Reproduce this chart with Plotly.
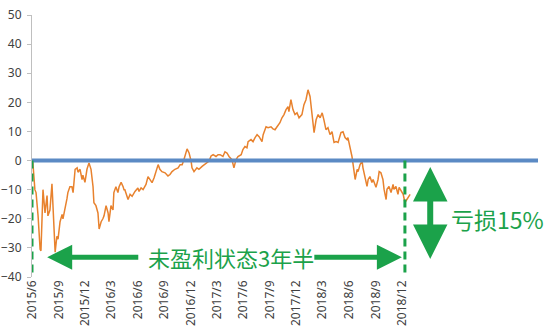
import plotly.graph_objects as go

# Orange series: cumulative return (%)
dates = [
    "2015-06-01", "2015-06-04", "2015-06-11", "2015-06-15", "2015-06-22", "2015-06-29", "2015-07-02",
    "2015-07-09", "2015-07-16", "2015-07-23", "2015-07-26", "2015-08-02", "2015-08-09", "2015-08-13",
    "2015-08-20", "2015-08-26", "2015-08-30", "2015-09-06", "2015-09-13", "2015-09-16", "2015-09-23",
    "2015-09-30", "2015-10-03", "2015-10-10", "2015-10-17", "2015-10-21", "2015-10-28", "2015-11-04",
    "2015-11-07", "2015-11-14", "2015-11-21", "2015-11-24", "2015-12-01", "2015-12-08", "2015-12-15",
    "2015-12-22", "2015-12-29", "2016-01-01", "2016-01-08", "2016-01-15", "2016-01-19", "2016-01-26",
    "2016-02-01", "2016-02-05", "2016-02-12", "2016-02-19", "2016-02-22", "2016-02-29", "2016-03-07",
    "2016-03-10", "2016-03-17", "2016-03-24", "2016-03-28", "2016-04-04", "2016-04-11", "2016-04-14",
    "2016-04-17", "2016-04-28", "2016-05-05", "2016-05-12", "2016-05-22", "2016-06-01", "2016-06-05",
    "2016-06-12", "2016-06-19", "2016-06-29", "2016-07-06", "2016-07-13", "2016-07-20", "2016-07-27",
    "2016-08-06", "2016-08-10", "2016-08-16", "2016-08-23", "2016-09-03", "2016-09-13", "2016-09-20",
    "2016-09-27", "2016-10-07", "2016-10-18", "2016-10-25", "2016-11-01", "2016-11-07", "2016-11-14",
    "2016-11-18", "2016-11-25", "2016-12-02", "2016-12-05", "2016-12-12", "2016-12-22", "2016-12-29",
    "2017-01-09", "2017-01-16", "2017-01-26", "2017-02-02", "2017-02-09", "2017-02-16", "2017-02-26",
    "2017-03-05", "2017-03-12", "2017-03-19", "2017-03-22", "2017-03-29", "2017-04-05", "2017-04-12",
    "2017-04-22", "2017-04-29", "2017-05-06", "2017-05-13", "2017-05-24", "2017-05-30", "2017-06-06",
    "2017-06-13", "2017-06-17", "2017-06-27", "2017-07-04", "2017-07-11", "2017-07-18", "2017-07-25",
    "2017-08-04", "2017-08-08", "2017-08-18", "2017-08-25", "2017-09-04", "2017-09-11", "2017-09-18",
    "2017-09-25", "2017-10-05", "2017-10-12", "2017-10-19", "2017-10-26", "2017-11-02", "2017-11-05",
    "2017-11-12", "2017-11-19", "2017-11-26", "2017-12-03", "2017-12-10", "2017-12-20", "2017-12-27",
    "2018-01-03", "2018-01-10", "2018-01-17", "2018-01-24", "2018-01-31", "2018-02-07", "2018-02-14",
    "2018-02-21", "2018-02-28", "2018-03-06", "2018-03-13", "2018-03-20", "2018-03-27", "2018-04-03",
    "2018-04-10", "2018-04-17", "2018-04-24", "2018-05-04", "2018-05-11", "2018-05-18", "2018-05-25",
    "2018-05-28", "2018-06-04", "2018-06-11", "2018-06-15", "2018-06-22", "2018-06-29", "2018-07-02",
    "2018-07-09", "2018-07-16", "2018-07-19", "2018-07-26", "2018-08-02", "2018-08-06", "2018-08-12",
    "2018-08-19", "2018-08-23", "2018-09-02", "2018-09-09", "2018-09-13", "2018-09-19", "2018-09-26",
    "2018-09-30", "2018-10-07", "2018-10-10", "2018-10-17", "2018-10-24", "2018-10-31", "2018-11-03",
    "2018-11-10", "2018-11-17", "2018-11-21", "2018-11-28", "2018-12-05", "2018-12-11", "2018-12-18",
    "2018-12-25", "2018-12-29",
]
returns = [
    0.0, -0.7, -10, -11, -19, -30.5, -31,
    -10, -18, -12, -19, -17, -8, -19,
    -31.5, -26, -27, -21, -18.5, -20, -17,
    -13, -11, -9, -9, -11, -3, -2.5,
    -4, -3, -6.5, -5, -7.5, -3, -0.8,
    -3, -9, -14.5, -15.5, -18, -23.5, -21,
    -20, -19, -15.5, -18, -21, -15.5, -17,
    -11, -9, -11, -9, -7.5, -9, -10,
    -10, -13.4, -11.6, -12.3, -10.6, -9.4, -10.6,
    -9.4, -10, -8.2, -5.5, -6.5, -7.6, -5.9,
    -2.5, -1.4, -3, -3.8, -4.2, -5.3, -4.8,
    -3.8, -3, -2.5, -1.4, -1.4, 0.3, 2.6,
    4, 2.6, -0.2, -2.5, -3.8, -2.5, -3,
    -2, -1.4, -0.8, -0.2, 1.6, 2, 1.4,
    2, 2, 1.6, 1.4, 3, 2.6, 1.4,
    0.3, -2.5, 0.3, 1.4, 2, 3.8, 4.8,
    4.4, 6.5, 7.2, 6.5, 7.9, 8.9, 8.2,
    6.5, 8.9, 11.6, 11.3, 11.6, 10.9, 10.6,
    11.6, 13, 14.7, 15.8, 17.5, 18.5, 16.8,
    20.9, 17.5, 15.8, 16.4, 14.7, 15.8, 19.2,
    20.9, 24.3, 22, 16, 9.6, 14, 15.8,
    14.7, 16.4, 14, 10.6, 11.3, 8.9, 9.9,
    6.2, 6.5, 6.2, 9.6, 9.9, 7.9, 7.2,
    7.9, 4.8, 1.4, -1.4, -6.5, -3, -3.8,
    -1.4, -0.2, -2.5, -5.5, -8.9, -6.5, -5.5,
    -7.5, -6.5, -9.2, -6.5, -3.8, -4.2, -6.5,
    -9.9, -13.4, -9.9, -8.9, -11, -8.2, -9.9,
    -8.9, -11.6, -9.2, -10.6, -11.6, -14.4, -13.4,
    -12.3, -11.6,
]

# Blue reference line (break-even level)
base_dates = ["2015-06-01", "2020-03-15"]
base_values = [0, 0]

# Axis ticks
tick_dates = [
    "2015-06-01", "2015-09-01", "2015-12-01", "2016-03-01", "2016-06-01",
    "2016-09-01", "2016-12-01", "2017-03-01", "2017-06-01", "2017-09-01",
    "2017-12-01", "2018-03-01", "2018-06-01", "2018-09-01", "2018-12-01",
]
tick_labels = [
    "2015/6", "2015/9", "2015/12", "2016/3", "2016/6",
    "2016/9", "2016/12", "2017/3", "2017/6", "2017/9",
    "2017/12", "2018/3", "2018/6", "2018/9", "2018/12",
]
y_ticks = [-40, -30, -20, -10, 0, 10, 20, 30, 40, 50]

# Annotation content
period_start = "2015-06-01"
period_end = "2018-12-11"
period_text = "未盈利状态3年半"
loss_text = "亏损15%"

GREEN = "#1BA24A"
ORANGE = "#E8822E"
BLUE = "#5B8AC4"

fig = go.Figure()
fig.add_trace(go.Scatter(x=dates, y=returns, mode="lines",
                         line=dict(color=ORANGE, width=1.5), hoverinfo="skip"))
fig.add_trace(go.Scatter(x=base_dates, y=base_values, mode="lines",
                         line=dict(color=BLUE, width=4), hoverinfo="skip"))

# green dashed verticals
for d in (period_start, period_end):
    fig.add_shape(type="line", xref="x", yref="y", x0=d, x1=d, y0=0, y1=-39.5,
                  line=dict(color=GREEN, width=3, dash="8px,5px"))

arrow_font = dict(size=1, color="rgba(0,0,0,0)")

# horizontal arrows
fig.add_annotation(xref="x domain", yref="y", axref="x domain", ayref="y",
                   x=0.03, y=-33.2, ax=0.213, ay=-33.2, text="", font=arrow_font,
                   showarrow=True, arrowhead=2, arrowsize=1.0, arrowwidth=5,
                   arrowcolor=GREEN)
fig.add_annotation(xref="x domain", yref="y", axref="x domain", ayref="y",
                   x=0.731, y=-33.2, ax=0.555, ay=-33.2, text="", font=arrow_font,
                   showarrow=True, arrowhead=2, arrowsize=1.0, arrowwidth=5,
                   arrowcolor=GREEN)
fig.add_annotation(xref="x domain", yref="y", x=0.393, y=-33.2, text=period_text,
                   xanchor="center", yanchor="middle", showarrow=False,
                   font=dict(family="Noto Sans CJK SC", size=22, color=GREEN))

# vertical double arrow: shaft + two heads
fig.add_shape(type="line", xref="x domain", yref="y", x0=0.787, x1=0.787,
              y0=-5, y1=-31, line=dict(color=GREEN, width=6))
fig.add_annotation(xref="x domain", yref="y", x=0.787, y=-2.2, ax=0, ay=22,
                   text="", font=arrow_font, showarrow=True, arrowhead=2,
                   arrowsize=1.15, arrowwidth=6, arrowcolor=GREEN)
fig.add_annotation(xref="x domain", yref="y", x=0.787, y=-33.8, ax=0, ay=-22,
                   text="", font=arrow_font, showarrow=True, arrowhead=2,
                   arrowsize=1.15, arrowwidth=6, arrowcolor=GREEN)
fig.add_annotation(xref="x domain", yref="y", x=0.919, y=-20.2, text=loss_text,
                   xanchor="center", yanchor="middle", showarrow=False,
                   font=dict(family="Noto Sans CJK SC", size=23, color=GREEN))

fig.update_layout(
    width=554, height=327,
    margin=dict(l=32, r=16, t=15, b=50, autoexpand=False),
    paper_bgcolor="white", plot_bgcolor="white",
    showlegend=False,
    font=dict(family="Noto Sans", size=11, color="#404040"),
    xaxis=dict(type="date", range=["2015-06-01", "2020-03-15"], automargin=False,
               tickmode="array", tickvals=tick_dates, ticktext=tick_labels,
               tickangle=-90, showgrid=False, zeroline=False, showline=False,
               ticks="", tickfont=dict(size=12, color="#404040")),
    yaxis=dict(range=[-40, 50], tickmode="array", tickvals=y_ticks, automargin=False,
               showgrid=False, zeroline=False, showline=True, linecolor="#BFBFBF",
               linewidth=1, ticks="outside", ticklen=4, tickcolor="#BFBFBF",
               ticklabelstandoff=3, tickfont=dict(size=12, color="#404040")),
)

fig.write_html("out.html")
